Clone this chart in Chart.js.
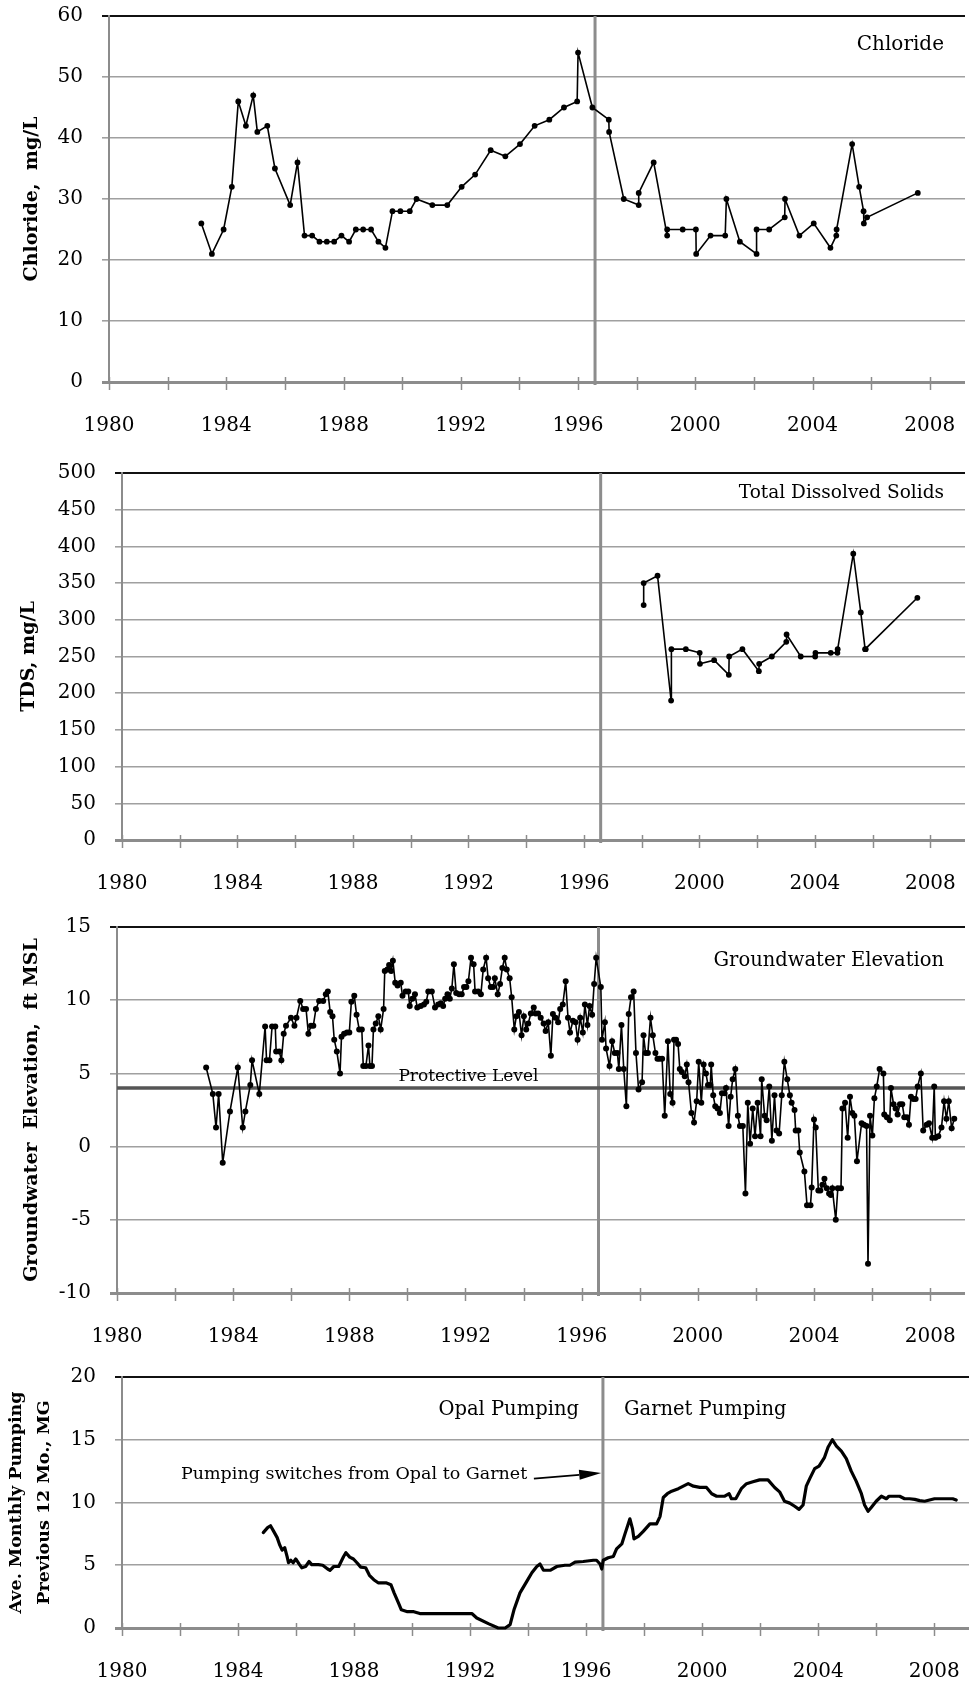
<!DOCTYPE html>
<html>
<head>
<meta charset="utf-8">
<title>Chloride, TDS, Groundwater Elevation and Pumping</title>
<script src="https://cdn.jsdelivr.net/npm/chart.js@4.4.1/dist/chart.umd.min.js"></script>
<style>
  html, body { margin: 0; padding: 0; background: #fff; width: 969px; height: 1684px; overflow: hidden; }
  canvas { position: absolute; left: 0; }
</style>
</head>
<body>
<canvas id="chloride" width="969" height="445" style="top:0px"></canvas>
<canvas id="tds" width="969" height="455" style="top:445px"></canvas>
<canvas id="groundwater" width="969" height="460" style="top:900px"></canvas>
<canvas id="pumping" width="969" height="324" style="top:1360px"></canvas>
<script>
// ---- time axis ----
const X_MIN = 1980;
const X_MAX = 2009.2;
const SWITCH_YEAR = 1996.58;          // pumping moved from Opal to Garnet
const PROTECTIVE_LEVEL = 4;           // ft MSL
const yearTicks = [1980, 1982, 1984, 1986, 1988, 1990, 1992, 1994, 1996, 1998, 2000, 2002, 2004, 2006, 2008];
const labeledYears = [1980, 1984, 1988, 1992, 1996, 2000, 2004, 2008];

// ---- value axes ----
const chlorideTicks = [0, 10, 20, 30, 40, 50, 60];
const tdsTicks = [0, 50, 100, 150, 200, 250, 300, 350, 400, 450, 500];
const groundwaterTicks = [-10, -5, 0, 5, 10, 15];
const pumpingTicks = [0, 5, 10, 15, 20];

// ---- Chloride, mg/L ----
const chlorideYears = [1983.15, 1983.51, 1983.91, 1984.19, 1984.41, 1984.67, 1984.92, 1985.06, 1985.40, 1985.66,
  1986.18, 1986.43, 1986.67, 1986.93, 1987.18, 1987.43, 1987.68, 1987.93, 1988.19, 1988.42,
  1988.67, 1988.94, 1989.19, 1989.43, 1989.67, 1989.94, 1990.26, 1990.49, 1991.03, 1991.54,
  1992.03, 1992.49, 1993.02, 1993.52, 1994.02, 1994.52, 1995.02, 1995.52, 1995.97, 1996.00,
  1996.49, 1997.05, 1997.06, 1997.56, 1998.07, 1998.07, 1998.58, 1999.04, 1999.04, 1999.57,
  2000.02, 2000.03, 2000.52, 2001.02, 2001.06, 2001.52, 2002.09, 2002.09, 2002.52, 2003.05,
  2003.06, 2003.55, 2004.04, 2004.61, 2004.81, 2004.82, 2005.35, 2005.59, 2005.74, 2005.75,
  2005.86, 2007.59];
const chlorideValues = [26, 21, 25, 32, 46, 42, 47, 41, 42, 35,
  29, 36, 24, 24, 23, 23, 23, 24, 23, 25,
  25, 25, 23, 22, 28, 28, 28, 30, 29, 29,
  32, 34, 38, 37, 39, 42, 43, 45, 46, 54,
  45, 43, 41, 30, 29, 31, 36, 24, 25, 25,
  25, 21, 24, 24, 30, 23, 21, 25, 25, 27,
  30, 24, 26, 22, 24, 25, 39, 32, 28, 26,
  27, 31];

// ---- Total Dissolved Solids, mg/L ----
const tdsYears = [1998.07, 1998.07, 1998.55, 1999.02, 1999.03, 1999.53, 2000.01, 2000.02, 2000.51, 2001.02,
  2001.03, 2001.49, 2002.06, 2002.07, 2002.51, 2003.01, 2003.02, 2003.51, 2004.01, 2004.02,
  2004.55, 2004.78, 2004.79, 2005.33, 2005.59, 2005.74, 2005.76, 2007.55];
const tdsValues = [320, 350, 360, 190, 260, 260, 255, 240, 245, 225,
  250, 260, 230, 240, 250, 270, 280, 250, 250, 255,
  255, 255, 260, 390, 310, 260, 260, 330];

// ---- Groundwater elevation, ft MSL ----
const groundwaterYears = [
  1983.07, 1983.30, 1983.41, 1983.50, 1983.64, 1983.89, 1984.16, 1984.33, 1984.42, 1984.59,
  1984.65, 1984.90, 1985.10, 1985.15, 1985.25, 1985.34, 1985.45, 1985.48, 1985.59, 1985.66,
  1985.74, 1985.82, 1985.99, 1986.11, 1986.18, 1986.31, 1986.41, 1986.51, 1986.59, 1986.68,
  1986.76, 1986.85, 1986.96, 1987.10, 1987.19, 1987.26, 1987.34, 1987.42, 1987.48, 1987.57,
  1987.68, 1987.73, 1987.82, 1987.92, 1988.00, 1988.07, 1988.17, 1988.25, 1988.34, 1988.43,
  1988.48, 1988.57, 1988.66, 1988.71, 1988.78, 1988.83, 1988.91, 1989.00, 1989.08, 1989.18,
  1989.22, 1989.31, 1989.37, 1989.44, 1989.50, 1989.58, 1989.66, 1989.77, 1989.83, 1989.94,
  1990.03, 1990.08, 1990.17, 1990.26, 1990.34, 1990.46, 1990.57, 1990.65, 1990.72, 1990.84,
  1990.95, 1991.06, 1991.15, 1991.23, 1991.30, 1991.38, 1991.46, 1991.53, 1991.60, 1991.68,
  1991.78, 1991.87, 1991.95, 1992.03, 1992.10, 1992.19, 1992.28, 1992.33, 1992.44, 1992.53,
  1992.61, 1992.71, 1992.78, 1992.87, 1992.95, 1993.01, 1993.11, 1993.19, 1993.27, 1993.35,
  1993.42, 1993.52, 1993.59, 1993.68, 1993.75, 1993.84, 1993.93, 1994.01, 1994.09, 1994.16,
  1994.25, 1994.35, 1994.41, 1994.50, 1994.59, 1994.69, 1994.76, 1994.85, 1994.94, 1995.01,
  1995.10, 1995.19, 1995.26, 1995.35, 1995.45, 1995.53, 1995.60, 1995.70, 1995.79, 1995.86,
  1995.95, 1996.04, 1996.11, 1996.20, 1996.27, 1996.36, 1996.43, 1996.50, 1996.66, 1996.70,
  1996.80, 1996.84, 1996.96, 1997.05, 1997.14, 1997.23, 1997.28, 1997.37, 1997.45, 1997.54,
  1997.62, 1997.70, 1997.79, 1997.87, 1997.96, 1998.08, 1998.13, 1998.20, 1998.28, 1998.37,
  1998.45, 1998.54, 1998.61, 1998.68, 1998.77, 1998.86, 1998.97, 1999.05, 1999.13, 1999.18,
  1999.25, 1999.32, 1999.38, 1999.45, 1999.55, 1999.62, 1999.68, 1999.78, 1999.87, 1999.96,
  2000.03, 2000.12, 2000.20, 2000.28, 2000.35, 2000.43, 2000.46, 2000.53, 2000.60, 2000.68,
  2000.76, 2000.83, 2000.92, 2000.97, 2001.06, 2001.13, 2001.20, 2001.29, 2001.38, 2001.45,
  2001.55, 2001.64, 2001.72, 2001.80, 2001.89, 2001.97, 2002.06, 2002.16, 2002.20, 2002.30,
  2002.37, 2002.46, 2002.55, 2002.64, 2002.71, 2002.80, 2002.89, 2002.98, 2003.08, 2003.17,
  2003.23, 2003.33, 2003.37, 2003.46, 2003.51, 2003.67, 2003.76, 2003.88, 2003.92, 2004.00,
  2004.06, 2004.15, 2004.22, 2004.29, 2004.36, 2004.44, 2004.52, 2004.58, 2004.63, 2004.75,
  2004.82, 2004.93, 2004.98, 2005.07, 2005.16, 2005.24, 2005.32, 2005.39, 2005.48, 2005.64,
  2005.72, 2005.81, 2005.86, 2005.93, 2006.01, 2006.08, 2006.16, 2006.26, 2006.39, 2006.42,
  2006.51, 2006.61, 2006.65, 2006.74, 2006.81, 2006.88, 2006.96, 2007.04, 2007.11, 2007.20,
  2007.27, 2007.34, 2007.42, 2007.50, 2007.57, 2007.68, 2007.76, 2007.88, 2007.96, 2008.07,
  2008.14, 2008.18, 2008.28, 2008.39, 2008.48, 2008.56, 2008.64, 2008.74, 2008.83];
const groundwaterValues = [
  5.4, 3.6, 1.3, 3.6, -1.1, 2.4, 5.4, 1.3, 2.4, 4.2,
  5.9, 3.6, 8.2, 5.9, 5.9, 8.2, 8.2, 6.5, 6.5, 5.9,
  7.7, 8.25, 8.8, 8.25, 8.8, 9.95, 9.4, 9.4, 7.7, 8.25,
  8.25, 9.4, 9.95, 9.95, 10.4, 10.6, 9.2, 8.9, 7.3, 6.5,
  5.0, 7.5, 7.7, 7.8, 7.8, 9.9, 10.3, 9.0, 8.0, 8.0,
  5.5, 5.5, 6.9, 5.5, 5.5, 8.0, 8.4, 8.9, 8.0, 9.4,
  12.0, 12.1, 12.4, 12.0, 12.7, 11.2, 11.0, 11.2, 10.3, 10.6,
  10.6, 9.6, 10.1, 10.4, 9.5, 9.6, 9.7, 9.9, 10.6, 10.6,
  9.5, 9.7, 9.8, 9.6, 10.1, 10.4, 10.1, 10.8, 12.45, 10.5,
  10.4, 10.4, 10.9, 10.9, 11.3, 12.9, 12.45, 10.6, 10.6, 10.4,
  12.1, 12.9, 11.5, 10.9, 10.9, 11.5, 10.4, 11.1, 12.2, 12.9,
  12.1, 11.5, 10.2, 8.0, 8.9, 9.2, 7.6, 8.9, 8.0, 8.4,
  9.1, 9.5, 9.1, 9.1, 8.8, 8.4, 7.9, 8.5, 6.2, 9.05,
  8.8, 8.5, 9.4, 9.7, 11.3, 8.8, 7.8, 8.6, 8.5, 7.3,
  8.8, 7.8, 9.7, 8.3, 9.6, 9.0, 11.1, 12.9, 10.9, 7.3,
  8.5, 6.7, 5.5, 7.2, 6.4, 6.4, 5.3, 8.3, 5.3, 2.75,
  9.05, 10.2, 10.6, 6.4, 3.9, 4.4, 7.6, 6.4, 6.4, 8.8,
  7.6, 6.4, 6.0, 6.0, 6.0, 2.1, 7.2, 3.6, 3.0, 7.3,
  7.3, 7.0, 5.3, 5.1, 4.8, 5.6, 4.4, 2.3, 1.65, 3.1,
  5.8, 3.0, 5.6, 5.0, 4.2, 4.2, 5.6, 3.5, 2.75, 2.6,
  2.3, 3.65, 3.65, 4.0, 1.4, 3.4, 4.6, 5.3, 2.1, 1.4,
  1.4, -3.2, 3.0, 0.2, 2.6, 0.7, 3.0, 0.7, 4.6, 2.1,
  1.8, 4.1, 0.4, 3.5, 1.1, 0.9, 3.5, 5.8, 4.6, 3.5,
  3.0, 2.5, 1.1, 1.1, -0.4, -1.7, -4.0, -4.0, -2.8, 1.85,
  1.3, -3.0, -3.0, -2.6, -2.2, -2.85, -3.2, -3.3, -2.85, -5.0,
  -2.85, -2.85, 2.6, 3.0, 0.6, 3.4, 2.3, 2.1, -1.0, 1.6,
  1.5, 1.4, -8.0, 2.1, 0.75, 3.3, 4.1, 5.3, 5.0, 2.2,
  2.0, 1.8, 4.0, 2.9, 2.6, 2.2, 2.9, 2.9, 2.0, 2.0,
  1.5, 3.4, 3.25, 3.25, 4.1, 5.0, 1.1, 1.5, 1.6, 0.6,
  4.1, 0.6, 0.7, 1.3, 3.1, 1.9, 3.1, 1.25, 1.9];

// ---- Average monthly pumping over the previous 12 months, MG ----
const pumpingYears = [
  1984.87, 1985.02, 1985.12, 1985.23, 1985.35, 1985.44, 1985.52, 1985.61, 1985.69, 1985.74,
  1985.82, 1985.90, 1985.99, 1986.12, 1986.20, 1986.33, 1986.45, 1986.54, 1986.77, 1986.92,
  1987.09, 1987.17, 1987.30, 1987.47, 1987.64, 1987.72, 1987.85, 1987.98, 1988.10, 1988.23,
  1988.40, 1988.53, 1988.68, 1988.83, 1989.10, 1989.27, 1989.38, 1989.53, 1989.63, 1989.84,
  1990.06, 1990.27, 1990.69, 1992.06, 1992.23, 1992.63, 1992.97, 1993.21, 1993.38, 1993.52,
  1993.72, 1993.95, 1994.13, 1994.30, 1994.41, 1994.53, 1994.76, 1994.99, 1995.27, 1995.44,
  1995.62, 1995.90, 1996.25, 1996.36, 1996.48, 1996.54, 1996.59, 1996.76, 1996.94, 1997.05,
  1997.23, 1997.34, 1997.51, 1997.60, 1997.65, 1997.80, 1997.97, 1998.20, 1998.43, 1998.55,
  1998.66, 1998.80, 1998.95, 1999.18, 1999.35, 1999.52, 1999.70, 1999.92, 2000.15, 2000.33,
  2000.50, 2000.78, 2000.93, 2001.01, 2001.16, 2001.35, 2001.53, 2001.75, 2001.98, 2002.27,
  2002.50, 2002.67, 2002.84, 2003.02, 2003.19, 2003.34, 2003.48, 2003.59, 2003.71, 2003.88,
  2004.03, 2004.22, 2004.34, 2004.49, 2004.63, 2004.80, 2004.97, 2005.14, 2005.31, 2005.49,
  2005.60, 2005.72, 2005.83, 2006.00, 2006.18, 2006.35, 2006.44, 2006.81, 2006.98, 2007.15,
  2007.33, 2007.50, 2007.67, 2007.84, 2008.01, 2008.36, 2008.64, 2008.76];
const pumpingValues = [
  7.6, 8.0, 8.15, 7.7, 7.2, 6.6, 6.2, 6.4, 5.7, 5.2,
  5.4, 5.2, 5.5, 5.05, 4.8, 4.9, 5.3, 5.05, 5.05, 5.0,
  4.7, 4.6, 4.9, 4.9, 5.7, 6.0, 5.65, 5.5, 5.2, 4.85,
  4.8, 4.2, 3.85, 3.6, 3.6, 3.45, 2.8, 2.0, 1.45, 1.3,
  1.3, 1.15, 1.15, 1.15, 0.8, 0.35, 0.0, 0.0, 0.27, 1.5,
  2.8, 3.7, 4.4, 4.9, 5.1, 4.6, 4.6, 4.9, 5.0, 5.0,
  5.25, 5.3, 5.4, 5.4, 5.1, 4.7, 5.4, 5.6, 5.7, 6.3,
  6.7, 7.5, 8.7, 7.9, 7.1, 7.3, 7.7, 8.3, 8.3, 8.9,
  10.4, 10.7, 10.9, 11.1, 11.3, 11.5, 11.3, 11.2, 11.2, 10.7,
  10.5, 10.5, 10.7, 10.3, 10.3, 11.1, 11.5, 11.65, 11.8, 11.8,
  11.2, 10.85, 10.1, 9.95, 9.7, 9.45, 9.8, 11.3, 11.9, 12.7,
  12.9, 13.6, 14.4, 15.0, 14.5, 14.1, 13.5, 12.5, 11.7, 10.7,
  9.8, 9.3, 9.6, 10.1, 10.5, 10.3, 10.5, 10.5, 10.3, 10.3,
  10.25, 10.15, 10.1, 10.2, 10.3, 10.3, 10.3, 10.2];

// ---- shared styling ----
const SERIF = "'DejaVu Serif', 'Liberation Serif', serif";
const TICK_FONT = { family: SERIF, size: 20, lineHeight: 1.2 };
const GRID_GRAY = '#a0a0a0';
const AXIS_GRAY = '#8c8c8c';

function toPoints(xs, ys) {
  return xs.map((x, i) => ({ x: x, y: ys[i] }));
}

// Extra drawing: switch-over line, crossing tick marks on the time axis, text notes, arrow.
const decorPlugin = {
  id: 'decor',
  beforeDatasetsDraw(chart, args, opts) {
    const { ctx, chartArea, scales } = chart;
    const px = scales.x.getPixelForValue(SWITCH_YEAR);
    ctx.save();
    ctx.strokeStyle = AXIS_GRAY;
    ctx.lineWidth = 3;
    ctx.beginPath();
    ctx.moveTo(px, chartArea.top);
    ctx.lineTo(px, chartArea.bottom + 3);
    ctx.stroke();
    ctx.restore();
  },
  afterDraw(chart, args, opts) {
    const { ctx, chartArea, scales } = chart;
    const x = scales.x, y = scales.y;
    ctx.save();
    // tick marks straddling the time axis
    ctx.strokeStyle = AXIS_GRAY;
    ctx.lineWidth = 1.5;
    x.ticks.forEach(t => {
      const px = Math.round(x.getPixelForValue(t.value)) + 0.5;
      ctx.beginPath();
      ctx.moveTo(px, chartArea.bottom - 5);
      ctx.lineTo(px, chartArea.bottom + 8);
      ctx.stroke();
    });
    // text notes
    ctx.fillStyle = '#000';
    ctx.textBaseline = 'middle';
    (opts.notes || []).forEach(n => {
      ctx.font = n.size + 'px ' + SERIF;
      ctx.textAlign = n.align;
      const p = n.at(chart);
      ctx.fillText(n.text, p.x, p.y);
    });
    // arrow pointing at the switch-over line
    if (opts.arrow) {
      const a = opts.arrow;
      const x1 = x.getPixelForValue(a.from[0]), y1 = y.getPixelForValue(a.from[1]);
      const x2 = x.getPixelForValue(a.to[0]), y2 = y.getPixelForValue(a.to[1]);
      const ang = Math.atan2(y2 - y1, x2 - x1);
      const head = 22, half = 5;
      ctx.strokeStyle = '#000';
      ctx.lineWidth = 1.8;
      ctx.beginPath();
      ctx.moveTo(x1, y1);
      ctx.lineTo(x2 - head * Math.cos(ang), y2 - head * Math.sin(ang));
      ctx.stroke();
      ctx.beginPath();
      ctx.moveTo(x2, y2);
      ctx.lineTo(x2 - head * Math.cos(ang) + half * Math.sin(ang), y2 - head * Math.sin(ang) - half * Math.cos(ang));
      ctx.lineTo(x2 - head * Math.cos(ang) - half * Math.sin(ang), y2 - head * Math.sin(ang) + half * Math.cos(ang));
      ctx.closePath();
      ctx.fill();
    }
    ctx.restore();
  }
};

function makeChart(id, cfg) {
  const yMin = cfg.yTicks[0];
  const yMax = cfg.yTicks[cfg.yTicks.length - 1];
  return new Chart(document.getElementById(id), {
    type: 'line',
    data: { datasets: cfg.datasets },
    options: {
      responsive: false,
      animation: false,
      devicePixelRatio: 1,
      layout: { padding: { top: cfg.padTop, left: 0, right: 0, bottom: 0 } },
      plugins: {
        legend: { display: false },
        tooltip: { enabled: false },
        decor: cfg.decor
      },
      scales: {
        x: {
          type: 'linear',
          min: X_MIN,
          max: X_MAX,
          afterBuildTicks: s => { s.ticks = yearTicks.map(v => ({ value: v })); },
          afterFit: s => {
            s.height = cfg.xHeight;
            // year labels may overhang into the side margins
            s.paddingLeft = 0;
            s.paddingRight = 0;
          },
          grid: { display: false, drawTicks: false },
          border: { display: false },
          ticks: {
            padding: 32,
            color: '#000',
            font: TICK_FONT,
            maxRotation: 0,
            autoSkip: false,
            callback: v => labeledYears.includes(v) ? String(v) : ''
          }
        },
        y: {
          type: 'linear',
          min: yMin,
          max: yMax,
          afterBuildTicks: s => { s.ticks = cfg.yTicks.map(v => ({ value: v })); },
          afterFit: s => {
            s.width = cfg.left;
            // end labels may overhang above / below the plot
            s.paddingTop = 0;
            s.paddingBottom = 0;
          },
          grid: {
            color: c => (c.tick && c.tick.value === yMax) ? '#111' : (c.tick && c.tick.value === yMin ? AXIS_GRAY : GRID_GRAY),
            lineWidth: c => (c.tick && c.tick.value === yMax) ? 2 : (c.tick && c.tick.value === yMin ? 3 : 1.6),
            tickLength: 7
          },
          border: { display: true, color: AXIS_GRAY, width: 2 },
          ticks: { padding: 19, color: '#000', font: TICK_FONT },
          title: {
            display: true,
            text: cfg.title,
            color: '#000',
            font: cfg.titleFont,
            padding: { top: cfg.titlePad, bottom: 0 }
          }
        }
      }
    },
    plugins: [decorPlugin]
  });
}

const markerSeries = (xs, ys, r) => ({
  data: toPoints(xs, ys),
  borderColor: '#000',
  borderWidth: 1.6,
  pointRadius: r,
  pointBackgroundColor: '#000',
  pointBorderWidth: 0,
  tension: 0,
  order: 0
});

const topRightNote = (text, size, dy) => ({
  text: text, size: size, align: 'right',
  at: ch => ({ x: ch.chartArea.right - 21, y: ch.chartArea.top + dy })
});

makeChart('chloride', {
  left: 109, padTop: 16, xHeight: 63,
  yTicks: chlorideTicks,
  title: 'Chloride,  mg/L',
  titleFont: { family: SERIF, size: 19, weight: 'bold', lineHeight: 1.2 },
  titlePad: 21,
  datasets: [markerSeries(chlorideYears, chlorideValues, 2.9)],
  decor: { notes: [topRightNote('Chloride', 20, 29)] }
});

makeChart('tds', {
  left: 122, padTop: 28, xHeight: 60,
  yTicks: tdsTicks,
  title: 'TDS, mg/L',
  titleFont: { family: SERIF, size: 19, weight: 'bold', lineHeight: 1.2 },
  titlePad: 18,
  datasets: [markerSeries(tdsYears, tdsValues, 2.9)],
  decor: { notes: [topRightNote('Total Dissolved Solids', 18.5, 20)] }
});

makeChart('groundwater', {
  left: 117, padTop: 27, xHeight: 67,
  yTicks: groundwaterTicks,
  title: 'Groundwater  Elevation,  ft MSL',
  titleFont: { family: SERIF, size: 19, weight: 'bold', lineHeight: 1.2 },
  titlePad: 21,
  datasets: [
    markerSeries(groundwaterYears, groundwaterValues, 3),
    {
      data: [{ x: X_MIN, y: PROTECTIVE_LEVEL }, { x: X_MAX, y: PROTECTIVE_LEVEL }],
      borderColor: '#555',
      borderWidth: 3.5,
      pointRadius: 0,
      order: 1
    }
  ],
  decor: {
    notes: [
      topRightNote('Groundwater Elevation', 19.5, 34),
      { text: 'Protective Level', size: 17, align: 'center',
        at: ch => ({ x: ch.scales.x.getPixelForValue(1992.1), y: ch.scales.y.getPixelForValue(PROTECTIVE_LEVEL) - 11 }) }
    ]
  }
});

makeChart('pumping', {
  left: 122, padTop: 17, xHeight: 56,
  yTicks: pumpingTicks,
  title: ['Ave. Monthly Pumping', 'Previous 12 Mo., MG'],
  titleFont: { family: SERIF, size: 17.5, weight: 'bold', lineHeight: 1.57 },
  titlePad: 3,
  datasets: [{
    data: toPoints(pumpingYears, pumpingValues),
    borderColor: '#000',
    borderWidth: 3.2,
    borderJoinStyle: 'round',
    borderCapStyle: 'round',
    pointRadius: 0,
    tension: 0,
    clip: false
  }],
  decor: {
    notes: [
      { text: 'Opal Pumping', size: 19.5, align: 'right',
        at: ch => ({ x: ch.scales.x.getPixelForValue(SWITCH_YEAR) - 24, y: ch.scales.y.getPixelForValue(17.4) }) },
      { text: 'Garnet Pumping', size: 19.5, align: 'left',
        at: ch => ({ x: ch.scales.x.getPixelForValue(SWITCH_YEAR) + 21, y: ch.scales.y.getPixelForValue(17.4) }) },
      { text: 'Pumping switches from Opal to Garnet', size: 17.5, align: 'right',
        at: ch => ({ x: ch.scales.x.getPixelForValue(1993.97), y: ch.scales.y.getPixelForValue(12.2) }) }
    ],
    arrow: { from: [1994.2, 11.9], to: [SWITCH_YEAR - 0.06, 12.35] }
  }
});
</script>
</body>
</html>
